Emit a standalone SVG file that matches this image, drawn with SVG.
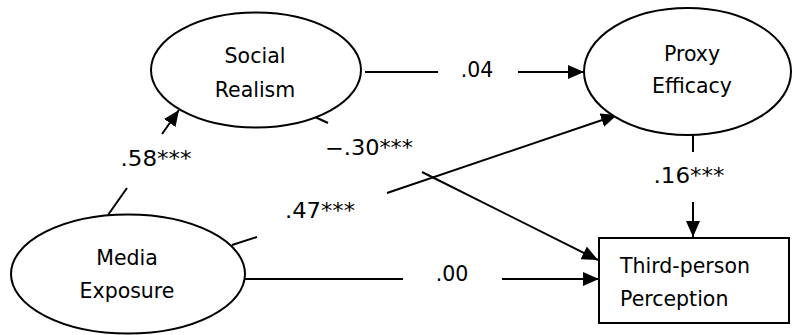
<svg xmlns="http://www.w3.org/2000/svg" width="793" height="335" viewBox="0 0 793 335">
<style>
.n{fill:#fff;stroke:#000;stroke-width:2}
.t{font-family:"DejaVu Sans",Verdana,sans-serif;font-size:20.5px;fill:#000}
.c{text-anchor:middle}
.e line{stroke:#000;stroke-width:2}
.a{marker-end:url(#ah)}
</style>
<defs>
<marker id="ah" markerUnits="userSpaceOnUse" markerWidth="16" markerHeight="14" refX="16" refY="7" orient="auto">
<path d="M0,0 L16,7 L0,14 z" fill="#000"/>
</marker>
</defs>
<rect width="793" height="335" fill="#fff"/>
<g id="edges" class="e">
<line x1="365" y1="72" x2="438" y2="72"/>
<line class="a" x1="518" y1="72" x2="584" y2="72"/>
<line x1="108" y1="215" x2="127" y2="188"/>
<line class="a" x1="162" y1="134" x2="179" y2="110"/>
<line x1="315" y1="117" x2="328" y2="123"/>
<line class="a" x1="422" y1="172" x2="598" y2="260"/>
<line x1="232" y1="245" x2="257" y2="237"/>
<line class="a" x1="387" y1="193" x2="617" y2="115"/>
<line x1="245" y1="279" x2="403" y2="279"/>
<line class="a" x1="502" y1="279" x2="599" y2="279"/>
<line x1="693" y1="135" x2="693" y2="152"/>
<line class="a" x1="693" y1="202" x2="693" y2="237"/>
</g>
<g id="labels" class="t c">
<text x="477" y="77">.04</text>
<text x="156" y="166" textLength="71" lengthAdjust="spacingAndGlyphs">.58***</text>
<text x="369" y="155" textLength="88" lengthAdjust="spacingAndGlyphs">−.30***</text>
<text x="320" y="218" textLength="70" lengthAdjust="spacingAndGlyphs">.47***</text>
<text x="689" y="183" textLength="71" lengthAdjust="spacingAndGlyphs">.16***</text>
<text x="452" y="281">.00</text>
</g>
<g id="social-realism">
<ellipse class="n" cx="256" cy="70" rx="105" ry="57.5"/>
<text class="t c" x="255" y="63">Social</text>
<text class="t c" x="255" y="97">Realism</text>
</g>
<g id="proxy-efficacy">
<ellipse class="n" cx="687.5" cy="71.5" rx="103.5" ry="63.5"/>
<text class="t c" x="692" y="61">Proxy</text>
<text class="t c" x="692" y="93">Efficacy</text>
</g>
<g id="media-exposure">
<ellipse class="n" cx="128" cy="274" rx="117" ry="59.5"/>
<text class="t c" x="127" y="265">Media</text>
<text class="t c" x="127" y="298">Exposure</text>
</g>
<g id="third-person-perception">
<rect class="n" x="599" y="238" width="190" height="85"/>
<text class="t" x="620" y="273">Third-person</text>
<text class="t" x="620" y="306">Perception</text>
</g>
</svg>
